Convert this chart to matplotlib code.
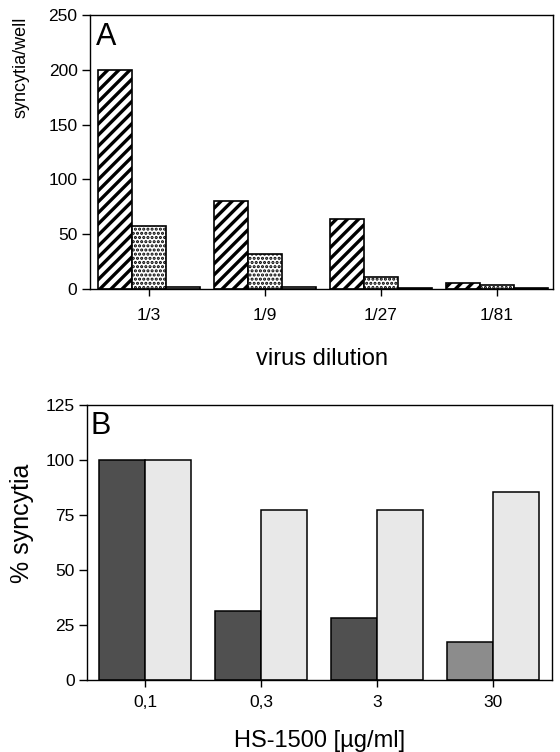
import matplotlib
matplotlib.use("Agg")
import matplotlib.pyplot as plt
import numpy as np

plt.rcParams["font.family"] = ["Liberation Sans", "DejaVu Sans"]

# painel A: sincicios por poco
diluicoes = ["1/3", "1/9", "1/27", "1/81"]
serie_listrada = [200, 80, 63.5, 5.3]
serie_pontilhada = [57.4, 32.2, 11.4, 3.2]
serie_branca = [1.5, 1.5, 1.0, 1.0]

# painel B: % sincicios
doses = ["0,1", "0,3", "3", "30"]
serie_escura = [100, 31.5, 28, 17.3]
serie_clara = [100, 77.3, 77.3, 85.3]
cores_escura = ["#4f4f4f", "#505050", "#505050", "#8c8c8c"]


def _eixo(ax, xpad):
    for s in ax.spines.values():
        s.set_linewidth(1.0)
    ax.tick_params(direction="out", length=6, width=1.0, pad=3, labelsize=12.5)
    ax.tick_params(axis="x", length=5, pad=xpad)


fig = plt.figure(figsize=(5.6, 7.52), dpi=100)

axA = fig.add_axes([90 / 560, 1 - 289 / 752, 463 / 560, 274 / 752])
x = np.arange(len(diluicoes))
w = 0.293
with plt.rc_context({"hatch.linewidth": 2.4}):
    axA.bar(x - w, serie_listrada, w, facecolor="white", edgecolor="black",
            hatch="///", linewidth=1.2)
with plt.rc_context({"hatch.linewidth": 1.5}):
    axA.bar(x, serie_pontilhada, w, facecolor="white", edgecolor="black",
            hatch="....", linewidth=1.2)
axA.bar(x + w, serie_branca, w, facecolor="white", edgecolor="black", linewidth=1.2)
axA.set_xlim(-0.509, 3.483)
axA.set_ylim(0, 250)
axA.set_yticks([0, 50, 100, 150, 200, 250])
axA.set_xticks(x)
axA.set_xticklabels(diluicoes)
axA.set_xlabel("virus dilution", fontsize=17, labelpad=17.5)
axA.set_ylabel("syncytia/well", fontsize=13)
axA.yaxis.set_label_coords(-0.13, 0.81)
axA.text(0.012, 0.975, "A", transform=axA.transAxes, fontsize=22, va="top", ha="left")
_eixo(axA, 9)

axB = fig.add_axes([87 / 560, 1 - 680 / 752, 465 / 560, 275 / 752])
x = np.arange(len(doses))
w = 0.397
axB.bar(x - w / 2, serie_escura, w, color=cores_escura, edgecolor="black", linewidth=1.1)
axB.bar(x + w / 2, serie_clara, w, color="#e8e8e8", edgecolor="black", linewidth=1.1)
axB.set_xlim(-0.5, 3.509)
axB.set_ylim(0, 125)
axB.set_yticks([0, 25, 50, 75, 100, 125])
axB.set_xticks(x)
axB.set_xticklabels(doses)
axB.set_xlabel("HS-1500 [\u00b5g/ml]", fontsize=17, labelpad=14)
axB.set_ylabel("% syncytia", fontsize=18)
axB.yaxis.set_label_coords(-0.115, 0.571)
axB.text(0.008, 0.98, "B", transform=axB.transAxes, fontsize=22, va="top", ha="left")
_eixo(axB, 6)

fig.savefig("out.png", dpi=100)
